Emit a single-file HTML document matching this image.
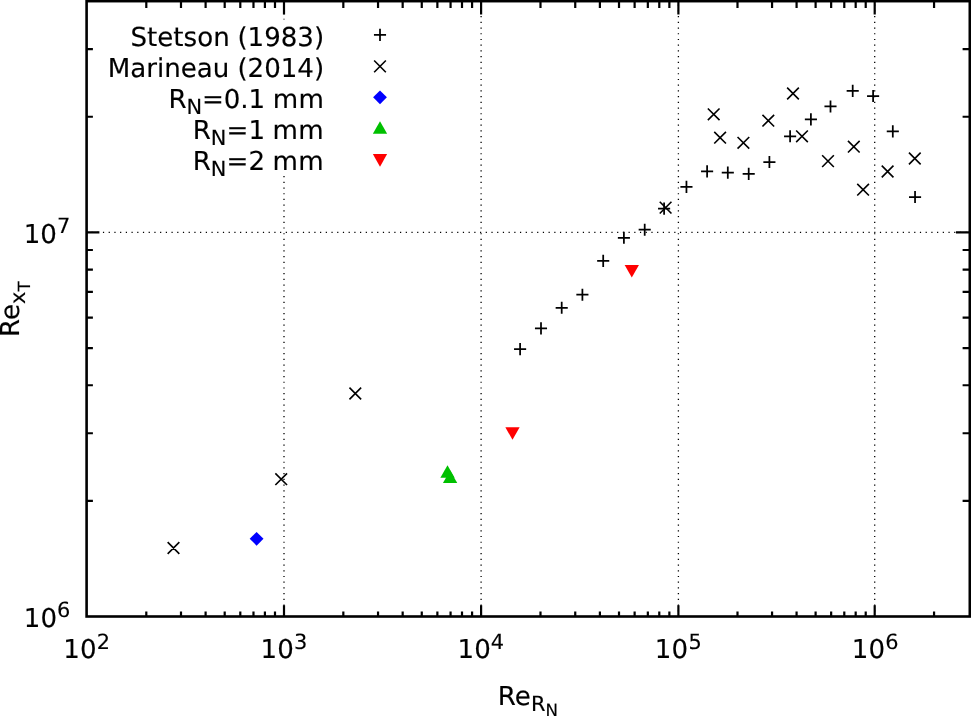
<!DOCTYPE html>
<html lang="en"><head><meta charset="utf-8"><title>Transition Reynolds number vs nose-radius Reynolds number</title>
<style>html,body{margin:0;padding:0;background:#fff;overflow:hidden}svg{display:block;will-change:transform}text{letter-spacing:0px;font-family:"DejaVu Sans","Liberation Sans",sans-serif;text-rendering:geometricPrecision;fill:#000;stroke:#000;stroke-width:0.15px}</style>
</head><body>
<svg width="971" height="716" viewBox="0 0 971 716">
<rect width="971" height="716" fill="#fff"/>
<g stroke="#000" stroke-width="1.3" stroke-dasharray="1.2 4.513" stroke-dashoffset="0.6" fill="none">
<path d="M284.00 616.50V174M284.00 19.4V1.15"/>
<path d="M481.10 616.50V1.15"/>
<path d="M678.40 616.50V1.15"/>
<path d="M874.70 616.50V1.15"/>
<path d="M86.40 232.40H969.80"/>
</g>
<g stroke="#000" stroke-width="2.2" fill="none">
<path d="M146.30 616.50v-5.00M146.30 1.15v6.75M180.99 616.50v-5.00M180.99 1.15v6.75M205.61 616.50v-5.00M205.61 1.15v6.75M224.70 616.50v-5.00M224.70 1.15v6.75M240.30 616.50v-5.00M240.30 1.15v6.75M253.48 616.50v-5.00M253.48 1.15v6.75M264.91 616.50v-5.00M264.91 1.15v6.75M274.99 616.50v-5.00M274.99 1.15v6.75M284.00 616.50v-11.20M284.00 1.15v13.35M343.33 616.50v-5.00M343.33 1.15v6.75M378.04 616.50v-5.00M378.04 1.15v6.75M402.67 616.50v-5.00M402.67 1.15v6.75M421.77 616.50v-5.00M421.77 1.15v6.75M437.37 616.50v-5.00M437.37 1.15v6.75M450.57 616.50v-5.00M450.57 1.15v6.75M462.00 616.50v-5.00M462.00 1.15v6.75M472.08 616.50v-5.00M472.08 1.15v6.75M481.10 616.50v-11.20M481.10 1.15v13.35M540.49 616.50v-5.00M540.49 1.15v6.75M575.24 616.50v-5.00M575.24 1.15v6.75M599.89 616.50v-5.00M599.89 1.15v6.75M619.01 616.50v-5.00M619.01 1.15v6.75M634.63 616.50v-5.00M634.63 1.15v6.75M647.84 616.50v-5.00M647.84 1.15v6.75M659.28 616.50v-5.00M659.28 1.15v6.75M669.37 616.50v-5.00M669.37 1.15v6.75M678.40 616.50v-11.20M678.40 1.15v13.35M737.49 616.50v-5.00M737.49 1.15v6.75M772.06 616.50v-5.00M772.06 1.15v6.75M796.58 616.50v-5.00M796.58 1.15v6.75M815.61 616.50v-5.00M815.61 1.15v6.75M831.15 616.50v-5.00M831.15 1.15v6.75M844.29 616.50v-5.00M844.29 1.15v6.75M855.68 616.50v-5.00M855.68 1.15v6.75M865.72 616.50v-5.00M865.72 1.15v6.75M874.70 616.50v-11.20M874.70 1.15v13.35M934.06 616.50v-5.00M934.06 1.15v6.75"/>
<path d="M86.60 500.87h6.30M969.80 500.87h-7.20M86.60 433.24h6.30M969.80 433.24h-7.20M86.60 385.25h6.30M969.80 385.25h-7.20M86.60 348.03h6.30M969.80 348.03h-7.20M86.60 317.61h6.30M969.80 317.61h-7.20M86.60 291.90h6.30M969.80 291.90h-7.20M86.60 269.62h6.30M969.80 269.62h-7.20M86.60 249.98h6.30M969.80 249.98h-7.20M86.60 232.40h12.80M969.80 232.40h-13.80M86.60 116.77h6.30M969.80 116.77h-7.20M86.60 49.14h6.30M969.80 49.14h-7.20"/>
</g>
<rect x="86.60" y="1.15" width="883.20" height="615.35" fill="none" stroke="#000" stroke-width="2.6"/>
<g stroke="#000" stroke-width="1.75" fill="none">
<path d="M373.95 34.90h12.1M380.00 28.85v12.1M514.05 349.10h12.1M520.10 343.05v12.1M534.95 328.40h12.1M541.00 322.35v12.1M555.65 307.80h12.1M561.70 301.75v12.1M576.35 294.70h12.1M582.40 288.65v12.1M597.15 260.90h12.1M603.20 254.85v12.1M617.85 237.75h12.1M623.90 231.70v12.1M638.65 229.70h12.1M644.70 223.65v12.1M658.05 208.60h12.1M664.10 202.55v12.1M680.40 186.90h12.1M686.45 180.85v12.1M701.05 171.40h12.1M707.10 165.35v12.1M721.75 172.65h12.1M727.80 166.60v12.1M742.65 173.90h12.1M748.70 167.85v12.1M763.35 162.00h12.1M769.40 155.95v12.1M784.05 136.30h12.1M790.10 130.25v12.1M804.85 119.40h12.1M810.90 113.35v12.1M824.45 106.45h12.1M830.50 100.40v12.1M846.65 90.85h12.1M852.70 84.80v12.1M867.05 96.00h12.1M873.10 89.95v12.1M886.75 131.40h12.1M892.80 125.35v12.1M909.00 197.00h12.1M915.05 190.95v12.1"/>
</g>
<g stroke="#000" stroke-width="1.6" fill="none">
<path d="M374.15 60.55l11.7 11.7M374.15 72.25l11.7 -11.7M167.65 542.15l11.7 11.7M167.65 553.85l11.7 -11.7M275.35 473.35l11.7 11.7M275.35 485.05l11.7 -11.7M349.45 387.65l11.7 11.7M349.45 399.35l11.7 -11.7M659.75 201.75l11.7 11.7M659.75 213.45l11.7 -11.7M707.85 108.45l11.7 11.7M707.85 120.15l11.7 -11.7M714.25 131.85l11.7 11.7M714.25 143.55l11.7 -11.7M737.55 136.95l11.7 11.7M737.55 148.65l11.7 -11.7M762.45 114.85l11.7 11.7M762.45 126.55l11.7 -11.7M787.15 87.65l11.7 11.7M787.15 99.35l11.7 -11.7M796.15 130.45l11.7 11.7M796.15 142.15l11.7 -11.7M822.15 155.25l11.7 11.7M822.15 166.95l11.7 -11.7M847.95 140.85l11.7 11.7M847.95 152.55l11.7 -11.7M857.25 183.85l11.7 11.7M857.25 195.55l11.7 -11.7M881.75 165.65l11.7 11.7M881.75 177.35l11.7 -11.7M908.95 152.65l11.7 11.7M908.95 164.35l11.7 -11.7"/>
</g>
<path d="M373.10 97.35L380.00 90.45L386.90 97.35L380.00 104.25Z" fill="#0000ff"/>
<path d="M249.70 538.80L256.60 531.90L263.50 538.80L256.60 545.70Z" fill="#0000ff"/>
<path d="M380.00 121.30L387.15 133.80L372.85 133.80Z" fill="#00c000"/>
<path d="M447.50 465.30L454.65 477.80L440.35 477.80Z" fill="#00c000"/>
<path d="M450.10 470.60L457.25 483.10L442.95 483.10Z" fill="#00c000"/>
<path d="M380.00 166.70L387.15 154.10L372.85 154.10Z" fill="#ff0000"/>
<path d="M512.50 439.80L519.65 427.20L505.35 427.20Z" fill="#ff0000"/>
<path d="M631.80 277.60L638.95 265.00L624.65 265.00Z" fill="#ff0000"/>
<g font-size="26.1" text-anchor="end">
<text x="229.75" y="46.00" style="letter-spacing:0.017px">Stetson</text>
<text x="324.05" y="46.00" style="letter-spacing:-0.020px">(1983)</text>
<text x="229.35" y="77.00" style="letter-spacing:-0.014px">Marineau</text>
<text x="324.05" y="77.00" style="letter-spacing:-0.020px">(2014)</text>
<text x="264.95" y="108.00" style="letter-spacing:-0.100px">R<tspan font-size="20.88" dy="5.6">N</tspan><tspan dy="-5.6">=0.1</tspan></text>
<text x="324.20" y="108.00" style="letter-spacing:0.250px">mm</text>
<text x="265.15" y="139.00" style="letter-spacing:0.067px">R<tspan font-size="20.88" dy="5.6">N</tspan><tspan dy="-5.6">=1</tspan></text>
<text x="323.85" y="139.00" style="letter-spacing:0.250px">mm</text>
<text x="265.15" y="170.00" style="letter-spacing:0.067px">R<tspan font-size="20.88" dy="5.6">N</tspan><tspan dy="-5.6">=2</tspan></text>
<text x="323.85" y="170.00" style="letter-spacing:0.250px">mm</text>
</g>
<g font-size="26.1">
<text x="63.35" y="658.0" style="letter-spacing:0.125px">10<tspan font-size="20.88" dy="-9.0">2</tspan></text>
<text x="260.60" y="658.0" style="letter-spacing:0.100px">10<tspan font-size="20.88" dy="-9.0">3</tspan></text>
<text x="457.45" y="658.0" style="letter-spacing:0.100px">10<tspan font-size="20.88" dy="-9.0">4</tspan></text>
<text x="654.75" y="658.0" style="letter-spacing:0.225px">10<tspan font-size="20.88" dy="-9.0">5</tspan></text>
<text x="851.85" y="658.0" style="letter-spacing:0.100px">10<tspan font-size="20.88" dy="-9.0">6</tspan></text>
<text x="23.85" y="627" style="letter-spacing:-0.000px">10<tspan font-size="20.88" dy="-10.0">6</tspan></text>
<text x="23.70" y="243" style="letter-spacing:0.050px">10<tspan font-size="20.88" dy="-10.0">7</tspan></text>
<text x="497.65" y="705.0" style="letter-spacing:0.133px">Re<tspan font-size="20.88" dy="6.3">R</tspan><tspan font-size="16.70" dy="4.9">N</tspan></text>
<text transform="translate(19.3 336.95) rotate(-90)" style="letter-spacing:0.000px">Re<tspan font-size="20.88" dy="5.8">x</tspan><tspan font-size="16.70" dy="4.6">T</tspan></text>
</g>
</svg>
</body></html>
